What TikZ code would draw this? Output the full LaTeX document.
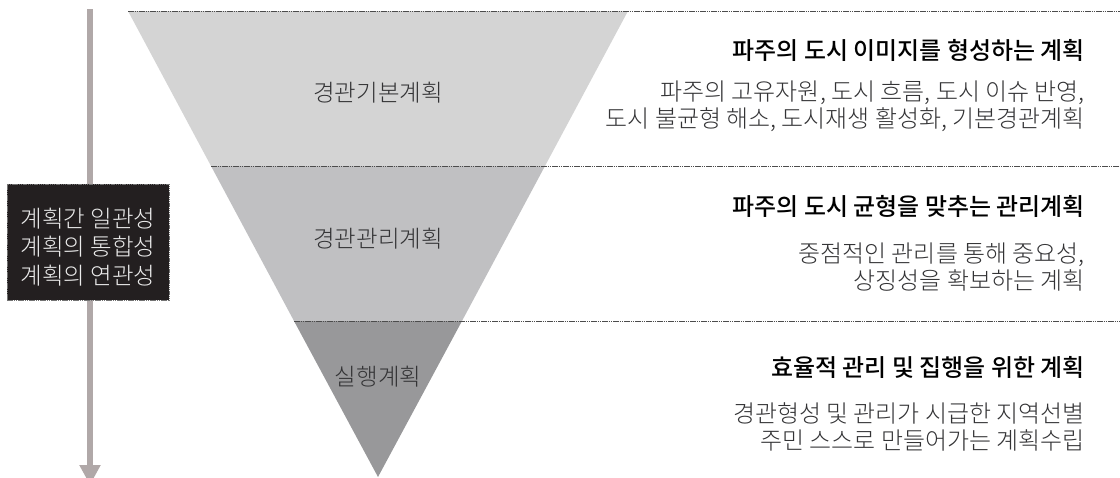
\documentclass[tikz,border=0pt]{standalone}
\usepackage{fontspec}
\setmainfont{Noto Sans CJK KR}
\newfontfamily\lightkr{Noto Sans CJK KR Light}
\newfontfamily\mediumkr{Noto Sans CJK KR Medium}
\usetikzlibrary{arrows.meta}
\definecolor{bandA}{HTML}{D4D4D4}
\definecolor{bandB}{HTML}{C0C0C2}
\definecolor{bandC}{HTML}{98989A}
\definecolor{barcol}{HTML}{B0A8A8}
\definecolor{boxcol}{HTML}{231F20}
\definecolor{inkcol}{HTML}{333335}
\tikzset{
  divider/.style={draw=black!70,line width=1pt,dash pattern=on 1.5pt off 0.7pt},
  bandlabel/.style={font=\fontsize{23.5}{23}\selectfont\lightkr,text=inkcol,anchor=center,inner sep=0pt},
  headlabel/.style={font=\fontsize{23.95}{23}\selectfont\mediumkr,text=black,anchor=east,inner sep=0pt},
  bodylabel/.style={font=\fontsize{23.95}{27}\selectfont\lightkr,text=inkcol,anchor=east,align=right,inner sep=0pt},
  sidebox/.style={fill=boxcol,draw=black!55,line width=0.7pt,dash pattern=on 1.5pt off 0.7pt,minimum width=162pt,minimum height=116pt,inner sep=0pt},
  sidetext/.style={text=white!92!black,font=\fontsize{23.5}{28.5}\selectfont\lightkr,align=center,inner sep=0pt},
}
\begin{document}
\begin{tikzpicture}[x=1pt,y=-1pt]
\useasboundingbox (0,0) rectangle (1120,477);
\clip (0,0) rectangle (1120,477);
\fill[bandA] (128,11) -- (628,11) -- (545,166) -- (211,166) -- cycle;
\fill[bandB] (211,166) -- (545,166) -- (462,321) -- (294,321) -- cycle;
\fill[bandC] (294,321) -- (462,321) -- (378,477) -- cycle;
\coordinate (l1) at (128,11); \coordinate (r1) at (1120,11);
\coordinate (l2) at (211,166); \coordinate (r2) at (1120,166);
\coordinate (l3) at (294,321); \coordinate (r3) at (1120,321);
\draw[divider] (l1) -- (r1);
\draw[divider] (l2) -- (r2);
\draw[divider] (l3) -- (r3);
\coordinate (bartop) at (90,9);
\coordinate (barend) at (90,485);
\draw[barcol,line width=6pt,-{Triangle[width=20pt,length=20pt]}] (bartop) -- (barend);
\node[sidebox] (side) at (88,242) {};
\node[sidetext] (sidelabel) at (88,247) {계획간 일관성\\계획의 통합성\\계획의 연관성};
\node[bandlabel] (b1) at (378,93) {경관기본계획};
\node[bandlabel] (b2) at (378,239) {경관관리계획};
\node[bandlabel] (b3) at (378,377) {실행계획};
\node[headlabel] (h1) at (1085,50) {파주의 도시 이미지를 형성하는 계획};
\node[bodylabel] (t1) at (1085,106) {파주의 고유자원, 도시 흐름, 도시 이슈 반영,\\도시 불균형 해소, 도시재생 활성화, 기본경관계획};
\node[headlabel] (h2) at (1085,206) {파주의 도시 균형을 맞추는 관리계획};
\node[bodylabel] (t2) at (1085,267) {중점적인 관리를 통해 중요성,\\상징성을 확보하는 계획};
\node[headlabel] (h3) at (1085,367) {효율적 관리 및 집행을 위한 계획};
\node[bodylabel] (t3) at (1085,427) {경관형성 및 관리가 시급한 지역선별\\주민 스스로 만들어가는 계획수립};
\end{tikzpicture}
\end{document}
